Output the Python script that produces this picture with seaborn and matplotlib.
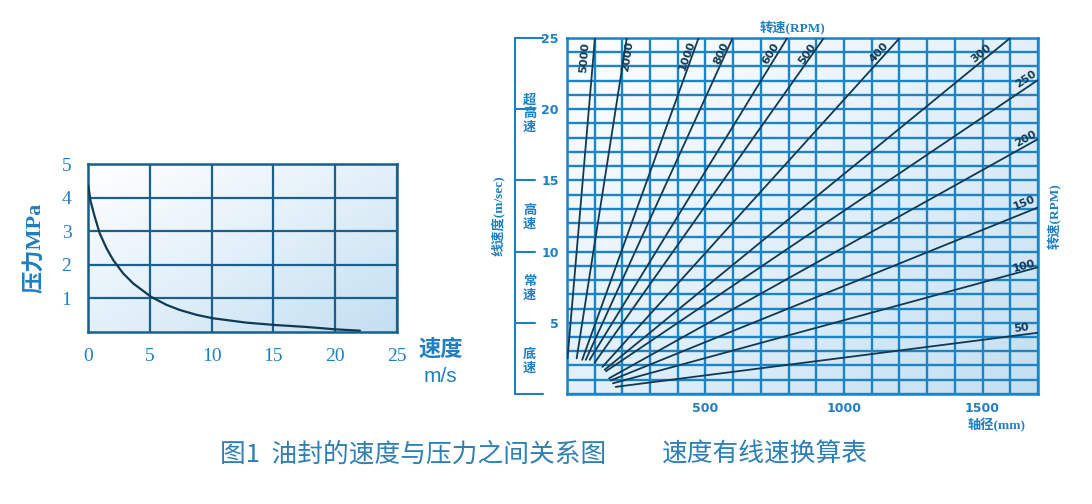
import numpy as np
import pandas as pd
import matplotlib
matplotlib.use('Agg')
import matplotlib.pyplot as plt
from matplotlib.colors import LinearSegmentedColormap
from matplotlib.transforms import blended_transform_factory
import seaborn as sns

# ---- left chart: seal pressure vs surface speed ----
speed = [0.03, 0.2, 0.54, 0.95, 1.49, 2.03, 2.84, 3.65, 5.1, 6.35, 7.4, 8.8, 10.1, 12.8, 15.1, 17.7, 20.0, 22.0]
pressure = [4.35, 3.9, 3.43, 2.93, 2.49, 2.14, 1.74, 1.44, 1.04, 0.8, 0.65, 0.5, 0.40, 0.27, 0.2, 0.14, 0.07, 0.03]
speed_ticks = [0, 5, 10, 15, 20, 25]
pressure_ticks = [1, 2, 3, 4, 5]

# ---- right chart: shaft diameter / rpm -> surface speed ----
rpm = [5000, 2000, 1000, 800, 600, 500, 400, 300, 250, 200, 150, 100, 50]
start_d = [2, 35, 55, 68, 82, 100, 128, 136, 141, 152, 158, 166, 176]
start_v = [2.5, 2.5, 2.4, 2.4, 2.4, 2.2, 1.9, 1.7, 1.6, 1.1, 0.95, 0.75, 0.5]
end_d = [101, 216, 475, 598, 795, 927, 1201, 1600, 1700, 1700, 1700, 1700, 1700]
end_v = [25, 25, 25, 25, 25, 25, 25, 25, 22.05, 17.9, 13.1, 8.9, 4.3]
label_d = [65, 218, 432, 556, 734, 867, 1125, 1494, 1656, 1656, 1650, 1650, 1640]
label_v = [23.6, 23.7, 23.8, 23.9, 23.9, 23.9, 24.0, 23.9, 22.1, 17.9, 13.4, 9.0, 4.6]
diam_labels = [500, 1000, 1500]
speed_labels = [5, 10, 15, 20, 25]
zones = ['底速', '常速', '高速', '超高速']
zone_v = [2.3, 7.4, 12.4, 19.7]
bracket_v = [0, 5, 10, 15, 20, 25]

sns.set_theme(style='white')
plt.rcParams['font.family'] = ['DejaVu Sans', 'Noto Sans CJK SC']

blue = '#1f7fc0'
grid_r = '#1b84c4'
grid_l = '#1b5f8c'
dark = '#0f3a55'
serif = ['Liberation Serif', 'Noto Sans CJK SC']

fig = plt.figure(figsize=(10.92, 5.04), dpi=100)
ax1 = fig.add_axes([0.0806, 0.3419, 0.2830, 0.3327])
ax2 = fig.add_axes([0.5192, 0.2183, 0.4313, 0.7063])

cmap = LinearSegmentedColormap.from_list('bg', ['#ffffff', '#e3f0f9', '#c3dff1'])
gx, gy = np.meshgrid(np.linspace(0, 1, 200), np.linspace(0, 1, 200))
grad = (gx + (1 - gy)) / 2


def paint_bg(ax):
    ax.imshow(grad, cmap=cmap, origin='lower', extent=[0, 1, 0, 1],
              transform=ax.transAxes, aspect='auto', zorder=0, vmin=0, vmax=1)


# left
paint_bg(ax1)
df1 = pd.DataFrame({'speed': speed, 'pressure': pressure})
sns.lineplot(data=df1, x='speed', y='pressure', ax=ax1, color=dark, lw=1.6, sort=False, zorder=3)
ax1.set_xlim(0, 25)
ax1.set_ylim(0, 5)
ax1.set_xticks(speed_ticks)
ax1.set_yticks(pressure_ticks)
ax1.grid(True, color=grid_l, lw=1.6)
ax1.set_axisbelow(True)
for s in ax1.spines.values():
    s.set_color(grid_l)
    s.set_linewidth(1.8)
ax1.tick_params(length=0, labelsize=14, labelcolor=blue, pad=12)
for t in ax1.get_xticklabels() + ax1.get_yticklabels():
    t.set_family(serif)
ax1.set_xlabel('')
ax1.set_ylabel('压力MPa', color=blue, fontsize=16, fontweight='bold', family=serif, labelpad=12)
ax1.text(1.14, -0.11, '速度', transform=ax1.transAxes, color=blue, fontsize=16,
         fontweight='bold', ha='center', va='center', family=serif)
ax1.text(1.14, -0.27, 'm/s', transform=ax1.transAxes, color=blue, fontsize=15,
         ha='center', va='center', family=['Liberation Sans'])

# right
paint_bg(ax2)
rows = []
for i, r in enumerate(rpm):
    rows.append({'rpm': r, 'd': start_d[i], 'v': start_v[i]})
    rows.append({'rpm': r, 'd': end_d[i], 'v': end_v[i]})
df2 = pd.DataFrame(rows)
sns.lineplot(data=df2, x='d', y='v', units='rpm', estimator=None, ax=ax2,
             color=dark, lw=1.3, zorder=3)
ax2.set_xlim(0, 1700)
ax2.set_ylim(0, 25)
xt = np.arange(0, 1701, 100)
yt = np.arange(0, 26, 1)
ax2.set_xticks(xt)
ax2.set_xticklabels([str(t) if t in diam_labels else '' for t in xt])
ax2.set_yticks(yt)
ax2.set_yticklabels([str(t) if t in speed_labels else '' for t in yt])
ax2.grid(True, color=grid_r, lw=1.7)
ax2.set_axisbelow(True)
for s in ax2.spines.values():
    s.set_color(grid_r)
    s.set_linewidth(1.8)
ax2.tick_params(length=0, labelsize=9, labelcolor=blue, pad=6)
for t in ax2.get_xticklabels() + ax2.get_yticklabels():
    t.set_fontweight('bold')
ax2.set_xlabel('')
ax2.set_ylabel('')

for i, r in enumerate(rpm):
    p0 = ax2.transData.transform((start_d[i], start_v[i]))
    p1 = ax2.transData.transform((end_d[i], end_v[i]))
    ang = np.degrees(np.arctan2(p1[1] - p0[1], p1[0] - p0[0]))
    ax2.text(label_d[i], label_v[i], str(r), rotation=ang, rotation_mode='anchor',
             ha='center', va='center', fontsize=8, fontweight='bold', color=dark, zorder=4)

# speed-zone bracket on the left
bt = blended_transform_factory(ax2.transAxes, ax2.transData)
ax2.plot([-0.110, -0.110], [0, 25], transform=bt, clip_on=False, color=blue, lw=1.5)
for b in bracket_v:
    x_end = -0.051 if b in (0, 25) else -0.068
    ax2.plot([-0.110, x_end], [b, b], transform=bt, clip_on=False, color=blue, lw=1.5)
for z, zv in zip(zones, zone_v):
    ax2.text(-0.079, zv, '\n'.join(z), transform=bt, ha='center', va='center',
             color=blue, fontsize=9.5, fontweight='bold', linespacing=1.05)

ax2.text(-0.145, 0.5, '线速度(m/sec)', transform=ax2.transAxes, rotation=90,
         ha='center', va='center', color=blue, fontsize=9.5, fontweight='bold', family=serif)
ax2.text(1.036, 0.5, '转速(RPM)', transform=ax2.transAxes, rotation=90,
         ha='center', va='center', color=blue, fontsize=9.5, fontweight='bold', family=serif)
ax2.text(0.478, 1.028, '转速(RPM)', transform=ax2.transAxes,
         ha='center', va='center', color=blue, fontsize=9.5, fontweight='bold', family=serif)
ax2.text(0.913, -0.088, '轴径(mm)', transform=ax2.transAxes,
         ha='center', va='center', color=blue, fontsize=9.5, fontweight='bold', family=serif)

# caption
fig.text(220 / 1092, 1 - 455 / 504, '图1  油封的速度与压力之间关系图', ha='left', va='center',
         color='#2e7fb4', fontsize=18.5, family=['Noto Sans CJK SC', 'DejaVu Sans'])
fig.text(662 / 1092, 1 - 455 / 504, '速度有线速换算表', ha='left', va='center',
         color='#2e7fb4', fontsize=18.5, family=['Noto Sans CJK SC', 'DejaVu Sans'])

fig.savefig('out.png', dpi=100)
